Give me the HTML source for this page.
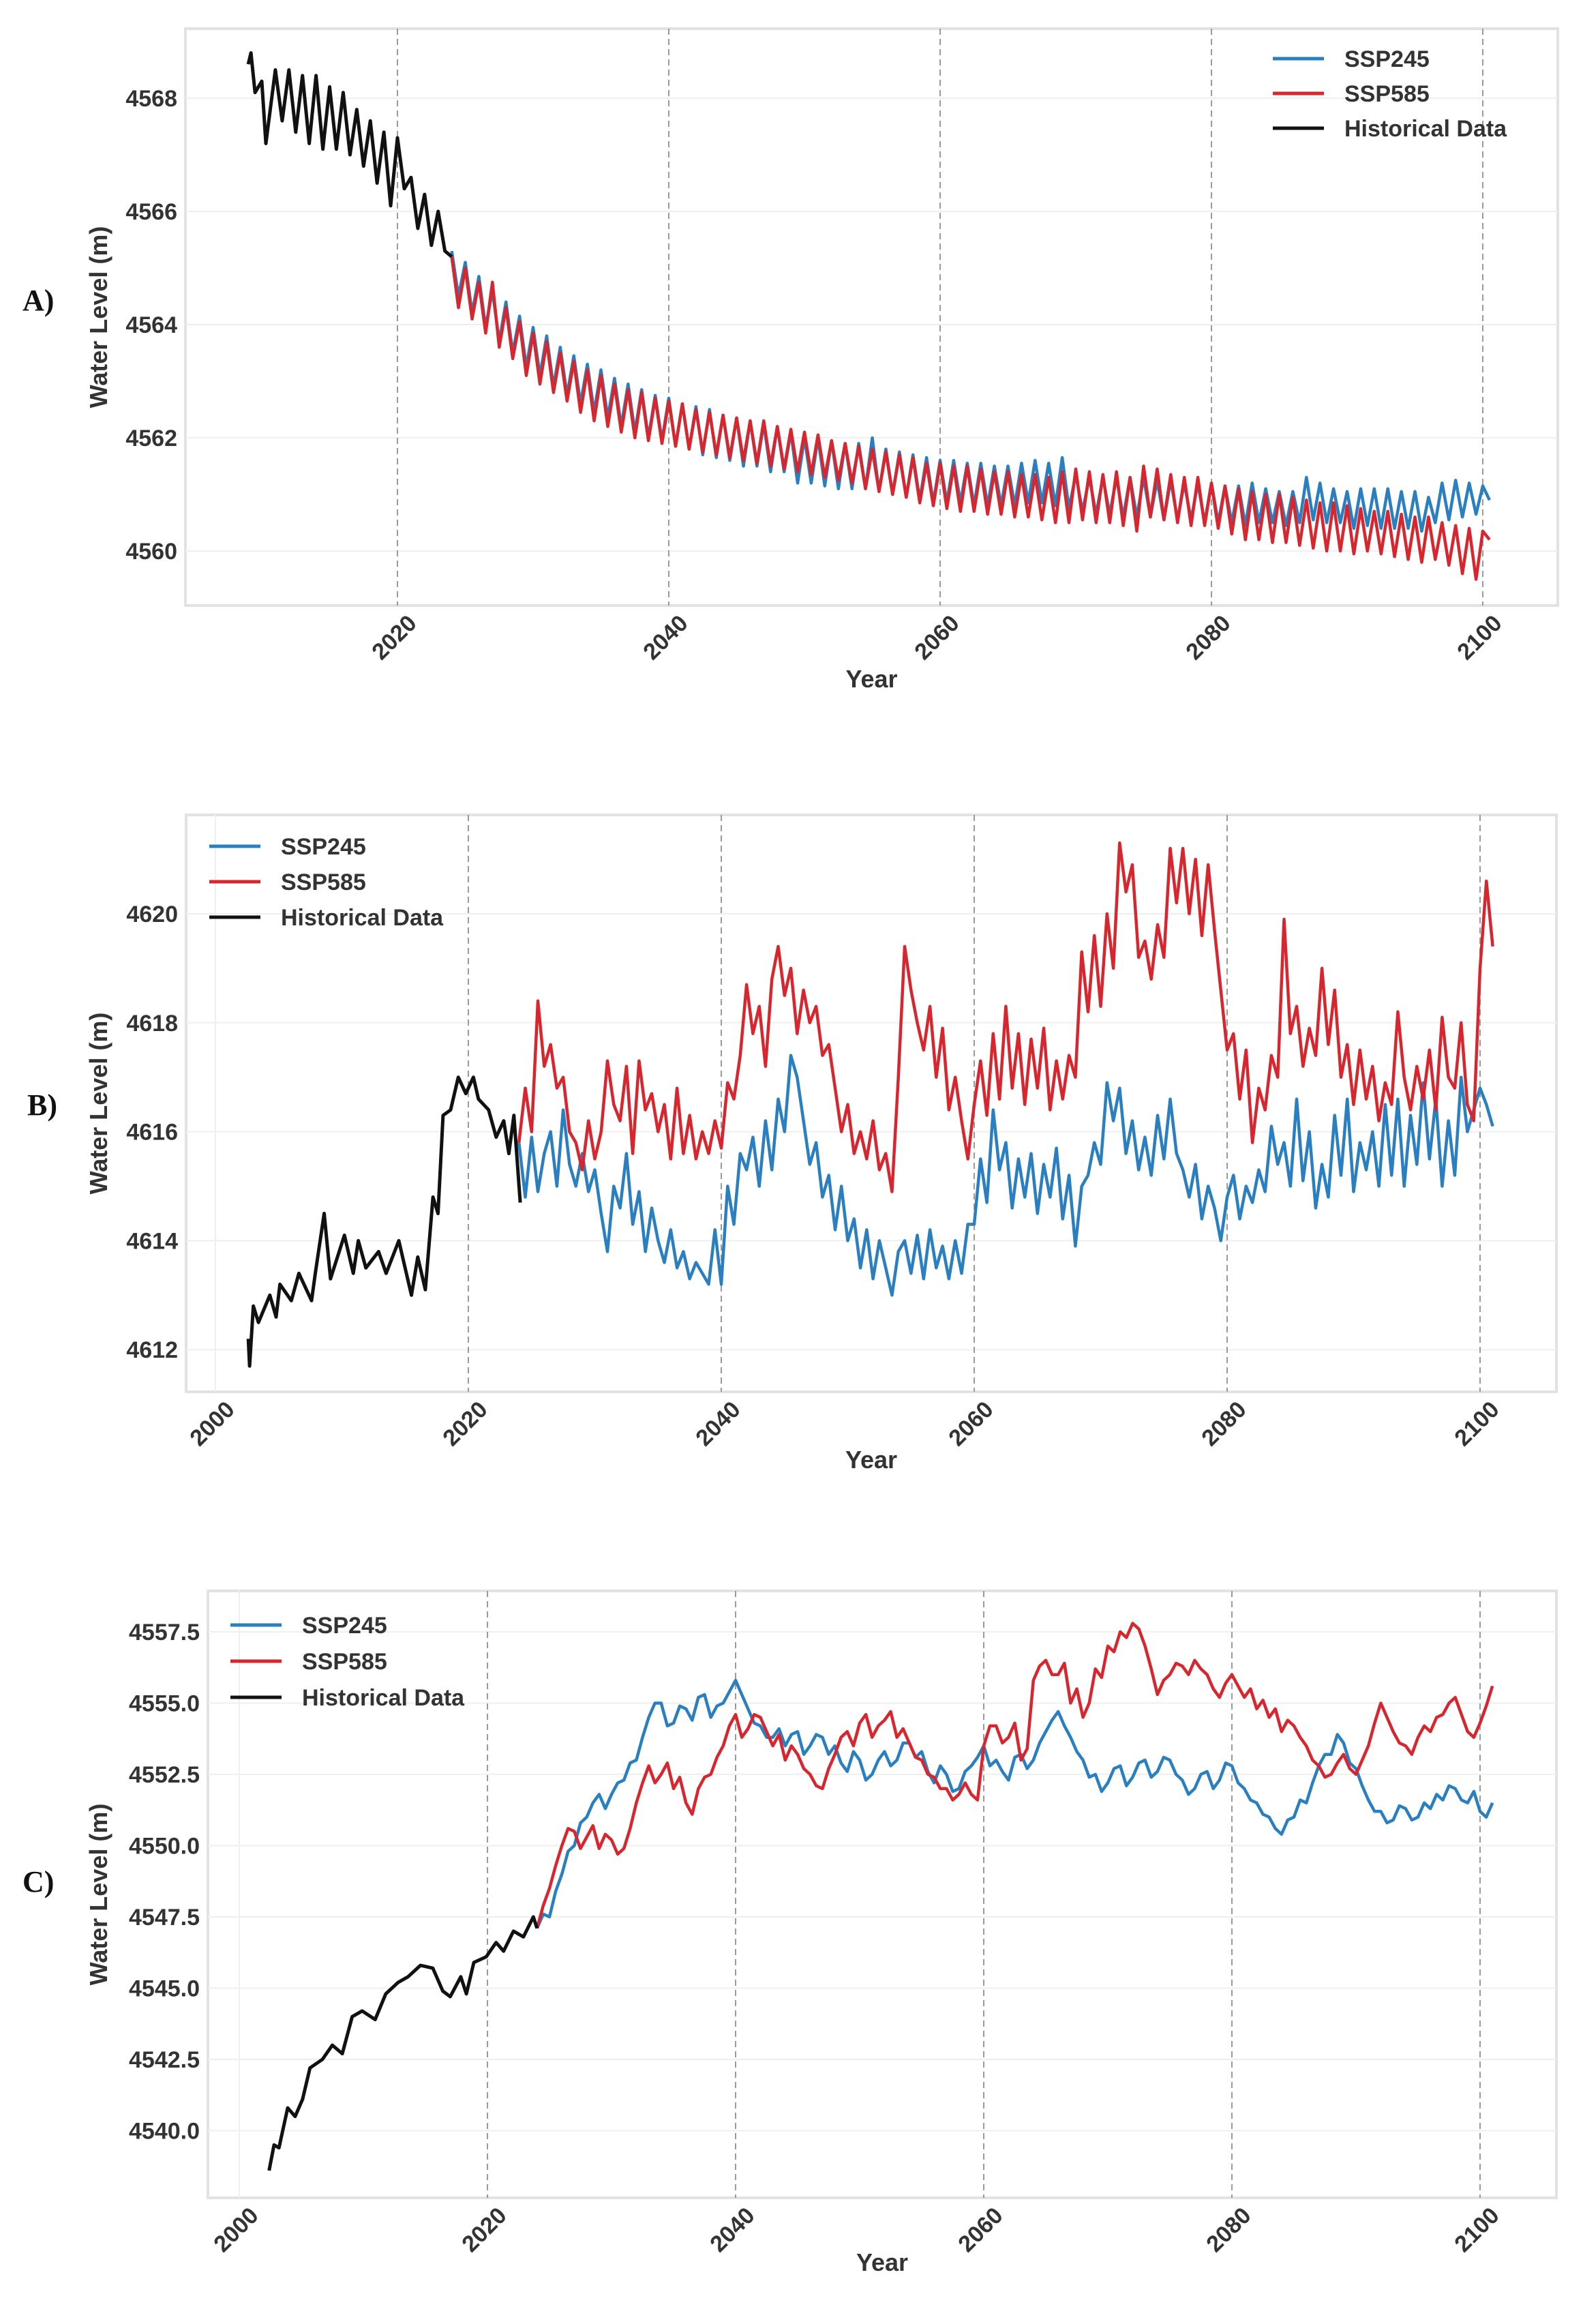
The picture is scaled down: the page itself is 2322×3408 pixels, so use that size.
<!DOCTYPE html>
<html><head><meta charset="utf-8">
<style>
html,body{margin:0;padding:0;background:#fff;}
svg{display:block;}
text{font-family:"Liberation Sans",sans-serif;}
</style></head>
<body>
<svg id="fig" width="2322" height="3408" viewBox="0 0 2322 3408" xmlns="http://www.w3.org/2000/svg">
<rect x="0" y="0" width="2322" height="3408" fill="#fff"/>
</svg>
<script>
// ---------- Panel A data ----------
const aHistYears = [2009.0,2009.2,2009.5,2010.0,2010.3,2011.0,2011.5,2012.0,2012.5,2013.0,2013.5,2014.0,2014.5,2015.0,2015.5,2016.0,2016.5,2017.0,2017.5,2018.0,2018.5,2019.0,2019.5,2020.0,2020.5,2021.0,2021.5,2022.0,2022.5,2023.0,2023.5,2024.0];
const aHistValues = [4568.6,4568.8,4568.1,4568.3,4567.2,4568.5,4567.6,4568.5,4567.4,4568.4,4567.2,4568.4,4567.1,4568.2,4567.1,4568.1,4567.0,4567.8,4566.8,4567.6,4566.5,4567.4,4566.1,4567.3,4566.4,4566.6,4565.7,4566.3,4565.4,4566.0,4565.3,4565.2];
const aProjStart = 2024;
const aSsp245Peaks = [4565.3,4565.1,4564.85,4564.6,4564.4,4564.15,4563.95,4563.8,4563.6,4563.45,
4563.3,4563.2,4563.05,4562.95,4562.85,4562.75,4562.7,4562.6,4562.55,4562.5,
4562.4,4562.35,4562.3,4562.25,4562.2,4562.1,4562.0,4562.0,4561.95,4561.9,
4561.9,4562.0,4561.8,4561.75,4561.7,4561.65,4561.6,4561.6,4561.55,4561.55,
4561.5,4561.5,4561.55,4561.6,4561.55,4561.65,4561.35,4561.3,4561.3,4561.3,
4561.3,4561.3,4561.25,4561.25,4561.2,4561.2,4561.2,4561.15,4561.15,4561.2,
4561.1,4561.05,4561.05,4561.3,4561.2,4561.1,4561.05,4561.1,4561.1,4561.1,
4561.05,4561.05,4560.95,4561.2,4561.25,4561.2,4561.15];
const aSsp245Troughs = [4564.5,4564.2,4563.95,4563.7,4563.5,4563.25,4563.1,4562.9,4562.75,4562.6,
4562.45,4562.35,4562.2,4562.1,4562.0,4561.95,4561.85,4561.8,4561.7,4561.65,
4561.6,4561.5,4561.5,4561.4,4561.4,4561.2,4561.2,4561.15,4561.1,4561.1,
4561.1,4561.05,4561.0,4560.95,4560.9,4560.85,4560.85,4560.85,4560.8,4560.8,
4560.8,4560.8,4560.85,4560.85,4560.8,4560.75,4560.7,4560.65,4560.65,4560.6,
4560.6,4560.6,4560.55,4560.55,4560.55,4560.5,4560.5,4560.5,4560.45,4560.5,
4560.5,4560.45,4560.5,4560.55,4560.5,4560.5,4560.4,4560.45,4560.4,4560.4,
4560.4,4560.35,4560.5,4560.55,4560.6,4560.65,4560.9];
const aSsp585Peaks = [4565.2,4565.0,4564.75,4564.75,4564.3,4564.05,4563.85,4563.7,4563.5,4563.35,
4563.2,4563.1,4562.95,4562.85,4562.8,4562.7,4562.65,4562.6,4562.5,4562.45,
4562.4,4562.35,4562.3,4562.3,4562.2,4562.15,4562.1,4562.05,4561.95,4561.9,
4561.85,4561.8,4561.75,4561.7,4561.65,4561.55,4561.55,4561.5,4561.5,4561.45,
4561.4,4561.4,4561.35,4561.35,4561.3,4561.4,4561.45,4561.4,4561.35,4561.4,
4561.3,4561.5,4561.45,4561.35,4561.3,4561.3,4561.2,4561.15,4561.1,4561.05,
4561.0,4561.0,4560.95,4560.9,4560.85,4560.85,4560.8,4560.75,4560.7,4560.7,
4560.65,4560.6,4560.6,4560.5,4560.45,4560.4,4560.35];
const aSsp585Troughs = [4564.3,4564.1,4563.85,4563.6,4563.4,4563.1,4562.95,4562.8,4562.65,4562.45,
4562.3,4562.2,4562.1,4562.0,4561.95,4561.9,4561.85,4561.8,4561.75,4561.7,
4561.65,4561.6,4561.55,4561.5,4561.45,4561.4,4561.35,4561.3,4561.25,4561.2,
4561.1,4561.05,4561.0,4560.95,4560.85,4560.8,4560.75,4560.7,4560.7,4560.65,
4560.65,4560.6,4560.6,4560.55,4560.5,4560.5,4560.55,4560.5,4560.5,4560.45,
4560.35,4560.6,4560.55,4560.5,4560.45,4560.45,4560.4,4560.3,4560.2,4560.2,
4560.15,4560.15,4560.1,4560.05,4560.0,4560.0,4559.95,4560.0,4559.95,4559.9,
4559.85,4559.8,4559.85,4559.75,4559.6,4559.5,4560.2];
const aYTicks = [4560,4562,4564,4566,4568];
const aXTicks = [2020,2040,2060,2080,2100];

// ---------- Panel B data ----------
const bHistYears = [2002.6,2002.7,2003.0,2003.4,2004.3,2004.8,2005.1,2006.0,2006.6,2007.6,2007.9,2008.6,2009.1,2010.2,2010.9,2011.3,2011.9,2012.9,2013.5,2014.5,2015.5,2016.0,2016.6,2017.2,2017.6,2018.0,2018.6,2019.2,2019.8,2020.4,2020.8,2021.6,2022.2,2022.8,2023.2,2023.6,2024.1];
const bHistValues = [4612.2,4611.7,4612.8,4612.5,4613.0,4612.6,4613.2,4612.9,4613.4,4612.9,4613.4,4614.5,4613.3,4614.1,4613.4,4614.0,4613.5,4613.8,4613.4,4614.0,4613.0,4613.7,4613.1,4614.8,4614.5,4616.3,4616.4,4617.0,4616.7,4617.0,4616.6,4616.4,4615.9,4616.2,4615.6,4616.3,4614.7];
const bProjStart = 2024;
const bSsp585 = [4615.8,4616.8,4616.0,4618.4,4617.2,4617.6,4616.8,4617.0,4616.0,4615.8,4615.3,4616.2,4615.5,4616.0,4617.3,4616.5,4616.2,4617.2,4615.6,4617.3,
4616.4,4616.7,4616.0,4616.5,4615.5,4616.8,4615.6,4616.3,4615.5,4616.0,4615.6,4616.2,4615.7,4616.9,4616.6,4617.4,4618.7,4617.8,4618.3,4617.2,
4618.8,4619.4,4618.5,4619.0,4617.8,4618.6,4618.0,4618.3,4617.4,4617.6,4616.8,4616.0,4616.5,4615.6,4616.0,4615.5,4616.2,4615.3,4615.6,4614.9,
4617.0,4619.4,4618.6,4618.0,4617.5,4618.3,4617.0,4617.9,4616.4,4617.0,4616.2,4615.5,4616.5,4617.3,4616.3,4617.8,4616.6,4618.3,4616.8,4617.8,
4616.5,4617.7,4616.8,4617.9,4616.4,4617.3,4616.6,4617.4,4617.0,4619.3,4618.2,4619.6,4618.3,4620.0,4619.0,4621.3,4620.4,4620.9,4619.2,4619.5,
4618.8,4619.8,4619.2,4621.2,4620.2,4621.2,4620.0,4621.0,4619.6,4620.9,4619.7,4618.6,4617.5,4617.8,4616.6,4617.5,4615.8,4616.8,4616.4,4617.4,
4617.0,4619.9,4617.8,4618.3,4617.2,4617.9,4617.4,4619.0,4617.6,4618.6,4617.0,4617.6,4616.5,4617.5,4616.6,4617.2,4616.2,4616.9,4616.5,4618.2,
4617.0,4616.4,4617.2,4616.6,4617.5,4616.4,4618.1,4617.0,4616.8,4618.0,4616.5,4616.2,4619.0,4620.6,4619.4];
const bSsp245 = [4615.8,4614.8,4615.9,4614.9,4615.6,4616.0,4615.0,4616.4,4615.4,4615.0,4615.6,4614.9,4615.3,4614.5,4613.8,4615.0,4614.6,4615.6,4614.3,4614.9,
4613.8,4614.6,4614.0,4613.6,4614.2,4613.5,4613.8,4613.3,4613.6,4613.4,4613.2,4614.2,4613.2,4615.0,4614.3,4615.6,4615.3,4615.9,4615.0,4616.2,
4615.3,4616.6,4616.0,4617.4,4617.0,4616.2,4615.4,4615.8,4614.8,4615.2,4614.2,4615.0,4614.0,4614.4,4613.5,4614.2,4613.3,4614.0,4613.5,4613.0,
4613.8,4614.0,4613.4,4614.1,4613.3,4614.2,4613.5,4613.9,4613.3,4614.0,4613.4,4614.3,4614.3,4615.5,4614.7,4616.4,4615.3,4615.8,4614.6,4615.5,
4614.8,4615.6,4614.5,4615.4,4614.8,4615.7,4614.4,4615.2,4613.9,4615.0,4615.2,4615.8,4615.4,4616.9,4616.2,4616.8,4615.6,4616.2,4615.3,4615.9,
4615.2,4616.3,4615.5,4616.6,4615.6,4615.3,4614.8,4615.4,4614.4,4615.0,4614.6,4614.0,4614.8,4615.2,4614.4,4615.0,4614.7,4615.3,4614.9,4616.1,
4615.4,4615.8,4615.0,4616.6,4615.1,4616.0,4614.6,4615.4,4614.8,4616.3,4615.2,4616.6,4614.9,4615.8,4615.3,4616.0,4615.0,4616.5,4615.2,4616.6,
4615.0,4616.3,4615.4,4616.9,4615.5,4616.6,4615.0,4616.2,4615.2,4617.0,4616.0,4616.4,4616.8,4616.5,4616.1];
const bYTicks = [4612,4614,4616,4618,4620];
const bXTicks = [2000,2020,2040,2060,2080,2100];

// ---------- Panel C data ----------
const cHistYears = [2002.4,2002.8,2003.2,2003.9,2004.5,2005.1,2005.7,2006.7,2007.5,2008.3,2009.1,2009.9,2010.95,2011.8,2012.8,2013.6,2014.6,2015.6,2016.4,2017.0,2017.85,2018.3,2018.9,2019.9,2020.7,2021.3,2022.1,2022.9,2023.7,2024.0];
const cHistValues = [4538.6,4539.5,4539.4,4540.8,4540.5,4541.1,4542.2,4542.5,4543.0,4542.7,4544.0,4544.2,4543.9,4544.8,4545.2,4545.4,4545.8,4545.7,4544.9,4544.7,4545.4,4544.8,4545.9,4546.1,4546.6,4546.3,4547.0,4546.8,4547.5,4547.1];
const cProjStart = 2024;
const cSsp245 = [4547.1,4547.6,4547.5,4548.4,4549.0,4549.8,4550.0,4550.8,4551.0,4551.5,4551.8,4551.3,4551.8,4552.2,4552.3,4552.9,4553.0,4553.8,4554.5,4555.0,
4555.0,4554.2,4554.3,4554.9,4554.8,4554.4,4555.2,4555.3,4554.5,4554.9,4555.0,4555.4,4555.8,4555.3,4554.8,4554.3,4554.2,4553.8,4553.8,4554.1,
4553.5,4553.9,4554.0,4553.2,4553.5,4553.9,4553.8,4553.2,4553.5,4552.9,4552.6,4553.3,4553.0,4552.3,4552.5,4553.0,4553.3,4552.8,4553.0,4553.6,
4553.6,4553.1,4553.3,4552.6,4552.2,4552.8,4552.5,4551.9,4552.0,4552.6,4552.8,4553.1,4553.5,4552.8,4553.0,4552.6,4552.3,4553.1,4553.2,4552.7,
4553.0,4553.6,4554.0,4554.4,4554.7,4554.2,4553.8,4553.3,4553.0,4552.4,4552.5,4551.9,4552.2,4552.7,4552.8,4552.1,4552.4,4552.9,4553.0,4552.4,
4552.6,4553.1,4553.0,4552.5,4552.3,4551.8,4552.0,4552.5,4552.6,4552.0,4552.3,4552.9,4552.8,4552.2,4552.0,4551.6,4551.5,4551.1,4551.0,4550.6,
4550.4,4550.9,4551.0,4551.6,4551.5,4552.2,4552.8,4553.2,4553.2,4553.9,4553.6,4552.9,4552.7,4552.1,4551.6,4551.2,4551.2,4550.8,4550.9,4551.4,
4551.3,4550.9,4551.0,4551.5,4551.3,4551.8,4551.6,4552.1,4552.0,4551.6,4551.5,4551.9,4551.2,4551.0,4551.5];
const cSsp585 = [4547.1,4547.9,4548.5,4549.3,4550.0,4550.6,4550.5,4549.9,4550.3,4550.7,4549.9,4550.4,4550.2,4549.7,4549.9,4550.6,4551.5,4552.2,4552.8,4552.2,
4552.5,4552.9,4552.0,4552.4,4551.5,4551.1,4552.0,4552.4,4552.5,4553.1,4553.5,4554.2,4554.6,4553.8,4554.1,4554.6,4554.5,4554.0,4553.5,4553.9,
4553.0,4553.5,4553.2,4552.7,4552.5,4552.1,4552.0,4552.7,4553.2,4553.8,4554.0,4553.5,4554.3,4554.6,4553.8,4554.2,4554.4,4554.7,4553.8,4554.1,
4553.6,4553.1,4553.0,4552.5,4552.4,4552.0,4552.0,4551.6,4551.8,4552.2,4551.8,4551.6,4553.5,4554.2,4554.2,4553.6,4553.8,4554.3,4553.0,4553.4,
4555.8,4556.3,4556.5,4556.0,4556.0,4556.4,4555.0,4555.5,4554.5,4555.0,4556.2,4555.9,4557.0,4556.8,4557.5,4557.3,4557.8,4557.6,4557.0,4556.2,
4555.3,4555.8,4556.0,4556.4,4556.3,4556.0,4556.5,4556.2,4556.0,4555.5,4555.2,4555.7,4556.0,4555.6,4555.2,4555.5,4554.8,4555.1,4554.5,4554.8,
4554.0,4554.4,4554.2,4553.8,4553.5,4553.0,4552.8,4552.4,4552.5,4552.9,4553.2,4552.7,4552.5,4553.0,4553.5,4554.3,4555.0,4554.5,4554.0,4553.6,
4553.5,4553.2,4553.8,4554.2,4554.0,4554.5,4554.6,4555.0,4555.2,4554.6,4554.0,4553.8,4554.3,4554.9,4555.6];
const cYTicks = [4540.0,4542.5,4545.0,4547.5,4550.0,4552.5,4555.0,4557.5];
const cXTicks = [2000,2020,2040,2060,2080,2100];

const NS = "http://www.w3.org/2000/svg";
const svg = document.getElementById('fig');
const BLUE = "#2a7fc0", RED = "#d8262e", BLACK = "#111";

function mk(tag, attrs, parent) {
  const e = document.createElementNS(NS, tag);
  for (const k in attrs) e.setAttribute(k, attrs[k]);
  (parent || svg).appendChild(e);
  return e;
}

function panel(cfg) {
  const g = mk('g', {});
  
  
  const xs = yr => cfg.x0 + (yr - cfg.yr0) * cfg.pxYr;
  const ys = v => cfg.y0 - (v - cfg.v0) * cfg.pxV;
  const B = cfg.box;
  const frame = mk('rect', {x:B.l, y:B.t, width:B.r-B.l, height:B.b-B.t, fill:'#fff', stroke:'#e2e2e2', 'stroke-width':4}, g);
  
  
  cfg.yTicks.forEach(v => {
    const y = ys(v);
    const gl = mk('line', {x1:B.l, x2:B.r, y1:y, y2:y, stroke:'#efefef', 'stroke-width':2}, g);
    
    
    const t = mk('text', {x:B.l-12, y:y+12, 'text-anchor':'end', 'font-size':34, 'font-weight':'bold', fill:'#333'}, g);
    
    
    t.textContent = cfg.yFmt(v);
  });
  cfg.xTicks.forEach(yr => {
    const x = xs(yr);
    const dashed = yr !== 2000;
    const gl = mk('line', dashed ? {x1:x, x2:x, y1:B.t, y2:B.b, stroke:'#9a9a9a', 'stroke-width':2, 'stroke-dasharray':'9,6'} : {x1:x, x2:x, y1:B.t, y2:B.b, stroke:'#f0f0f0', 'stroke-width':2}, g);
    
    
    const tx = x + 30, ty = B.b + 28;
    const t = mk('text', {x:tx, y:ty, 'text-anchor':'end', 'font-size':34, 'font-weight':'bold', fill:'#333', transform:`rotate(-45 ${tx} ${ty})`}, g);
    
    
    t.textContent = yr;
  });
  const pathFrom = (xsArr, vals) => vals.map((v,i) => (i?'L':'M') + xs(xsArr[i]).toFixed(1) + ' ' + ys(v).toFixed(1)).join(' ');
  cfg.series.forEach(s => {
    const p = mk('path', {d:pathFrom(s.years, s.values), fill:'none', stroke:s.color, 'stroke-width':s.w || 4.5, 'stroke-linejoin':'round'}, g);
    
    
  });
  const xt = mk('text', {x:(B.l+B.r)/2, y:cfg.xTitleY, 'text-anchor':'middle', 'font-size':36, 'font-weight':'bold', fill:'#333'}, g);
  
  
  xt.textContent = 'Year';
  const yc = (B.t+B.b)/2;
  const yt = mk('text', {x:157, y:yc, 'text-anchor':'middle', 'font-size':36, 'font-weight':'bold', fill:'#333', transform:`rotate(-90 157 ${yc})`}, g);
  
  
  yt.textContent = 'Water Level (m)';
  const pl = mk('text', {x:cfg.labX, y:cfg.labY, 'font-size':44, 'font-weight':'bold', fill:'#111', style:'font-family:"Liberation Serif",serif'}, g);
  
  
  pl.textContent = cfg.id + ')';
  const L = cfg.legend;
  [['SSP245', BLUE], ['SSP585', RED], ['Historical Data', BLACK]].forEach((it, i) => {
    const y = L.y + i * L.dy;
    const ln = mk('line', {x1:L.x, x2:L.x+75, y1:y, y2:y, stroke:it[1], 'stroke-width':5}, g);
    
    
    const t = mk('text', {x:L.x+105, y:y+12, 'font-size':34, 'font-weight':'bold', fill:'#333'}, g);
    
    
    t.textContent = it[0];
  });
}

function halfYears(start, n) { const a = []; for (let i = 0; i < n; i++) a.push(start + i * 0.5); return a; }
function interleave(p, t) { const a = []; for (let i = 0; i < p.length; i++) { a.push(p[i]); a.push(t[i]); } return a; }

panel({id:'A', box:{l:272,t:42,r:2285,b:888}, yr0:2020, x0:583, pxYr:19.9, v0:4568, y0:144, pxV:83,
  yTicks:aYTicks, xTicks:aXTicks, yFmt:v=>String(v), xTitleY:1008, labX:33, labY:455,
  legend:{x:1867, y:86, dy:51},
  series:[
    {name:'ssp245-line', color:BLUE, years:halfYears(aProjStart, aSsp245Peaks.length*2), values:interleave(aSsp245Peaks, aSsp245Troughs)},
    {name:'ssp585-line', color:RED, years:halfYears(aProjStart, aSsp585Peaks.length*2), values:interleave(aSsp585Peaks, aSsp585Troughs)},
    {name:'historical-line', color:BLACK, years:aHistYears, values:aHistValues, w:5}
  ]});

panel({id:'B', box:{l:273,t:1195,r:2283,b:2041}, yr0:2020, x0:687, pxYr:18.55, v0:4620, y0:1340, pxV:79.9,
  yTicks:bYTicks, xTicks:bXTicks, yFmt:v=>String(v), xTitleY:2153, labX:40, labY:1635,
  legend:{x:307, y:1241, dy:52},
  series:[
    {name:'ssp245-line', color:BLUE, years:halfYears(bProjStart, bSsp245.length), values:bSsp245},
    {name:'ssp585-line', color:RED, years:halfYears(bProjStart, bSsp585.length), values:bSsp585},
    {name:'historical-line', color:BLACK, years:bHistYears, values:bHistValues, w:5}
  ]});

panel({id:'C', box:{l:305,t:2333,r:2283,b:3223}, yr0:2020, x0:715, pxYr:18.2, v0:4557.5, y0:2393, pxV:41.8,
  yTicks:cYTicks, xTicks:cXTicks, yFmt:v=>v.toFixed(1), xTitleY:3330, labX:33, labY:2774,
  legend:{x:338, y:2383, dy:53},
  series:[
    {name:'ssp245-line', color:BLUE, years:halfYears(cProjStart, cSsp245.length), values:cSsp245},
    {name:'ssp585-line', color:RED, years:halfYears(cProjStart, cSsp585.length), values:cSsp585},
    {name:'historical-line', color:BLACK, years:cHistYears, values:cHistValues, w:5}
  ]});
</script>
</body></html>
